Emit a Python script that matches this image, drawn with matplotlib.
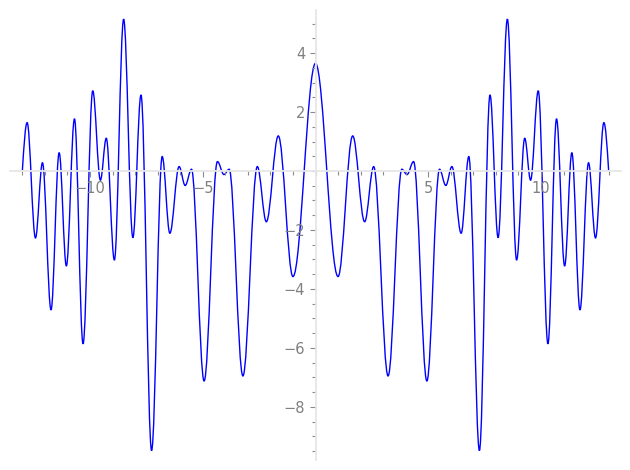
import numpy as np
import matplotlib
matplotlib.use("Agg")
import matplotlib.pyplot as plt
from matplotlib.path import Path
from matplotlib.patches import PathPatch
from matplotlib.ticker import FixedLocator, MultipleLocator

# turning points of the curve for x >= 0
# (the curve is even, so the left half is the mirror image)
x_turn = [0.0, 1.0, 1.65, 2.18, 2.58, 3.22, 3.83, 4.06, 4.35, 4.94, 5.5,
          5.78, 6.05, 6.46, 6.8, 7.27, 7.74, 8.1, 8.51, 8.92, 9.28, 9.54,
          9.88, 10.31, 10.69, 11.05, 11.37, 11.73, 12.11, 12.42, 12.79, 13.0]
y_turn = [3.65, -3.58, 1.19, -1.72, 0.15, -6.95, 0.06, -0.12, 0.32, -7.12,
          0.06, -0.49, 0.15, -2.11, 0.49, -9.48, 2.58, -2.26, 5.15, -3.02,
          1.11, -0.31, 2.72, -5.86, 1.77, -3.22, 0.62, -4.71, 0.28, -2.27,
          1.64, 0.03]
end_slope = -12.0  # slope of the curve where it stops at x = 13

x_major = [-10, -5, 5, 10]
y_major = [-8, -6, -4, -2, 2, 4]

xs = [-x for x in reversed(x_turn[1:])] + x_turn
ys = list(reversed(y_turn[1:])) + y_turn
slopes = [0.0] * len(xs)
slopes[0] = -end_slope
slopes[-1] = end_slope

# smooth path through the turning points (flat tangent at each one)
verts = [(xs[0], ys[0])]
codes = [Path.MOVETO]
for i in range(len(xs) - 1):
    x0, y0, x1, y1 = xs[i], ys[i], xs[i + 1], ys[i + 1]
    dx = x1 - x0
    h0 = 0.364 * dx if slopes[i] == 0 else dx / 3
    h1 = 0.364 * dx if slopes[i + 1] == 0 else dx / 3
    verts += [(x0 + h0, y0 + h0 * slopes[i]),
              (x1 - h1, y1 - h1 * slopes[i + 1]),
              (x1, y1)]
    codes += [Path.CURVE4] * 3

fig = plt.figure(figsize=(6.3, 4.7), dpi=100)
ax = fig.add_axes([10 / 630, 10 / 470, 611 / 630, 450 / 470])
ax.add_patch(PathPatch(Path(verts, codes), fill=False,
                       edgecolor="#0000ff", lw=1.0))

ax.set_xlim(-13.55, 13.55)
ax.set_ylim(-9.8, 5.46)

for side in ["top", "right"]:
    ax.spines[side].set_visible(False)
ax.spines["left"].set_position("zero")
ax.spines["bottom"].set_position("zero")
for side in ["left", "bottom"]:
    ax.spines[side].set_color("#e6e6e6")
    ax.spines[side].set_linewidth(1.3)

ax.xaxis.set_major_locator(FixedLocator(x_major))
ax.xaxis.set_minor_locator(MultipleLocator(1))
ax.yaxis.set_major_locator(FixedLocator(y_major))
ax.yaxis.set_minor_locator(MultipleLocator(0.5))
ax.tick_params(which="both", direction="out", color="#8c8c8c",
               labelcolor="#808080", labelsize=10.5, width=0.8)
ax.tick_params(which="major", length=4.5, pad=3)
ax.tick_params(which="minor", length=3)

fig.savefig("out.png", dpi=100)
